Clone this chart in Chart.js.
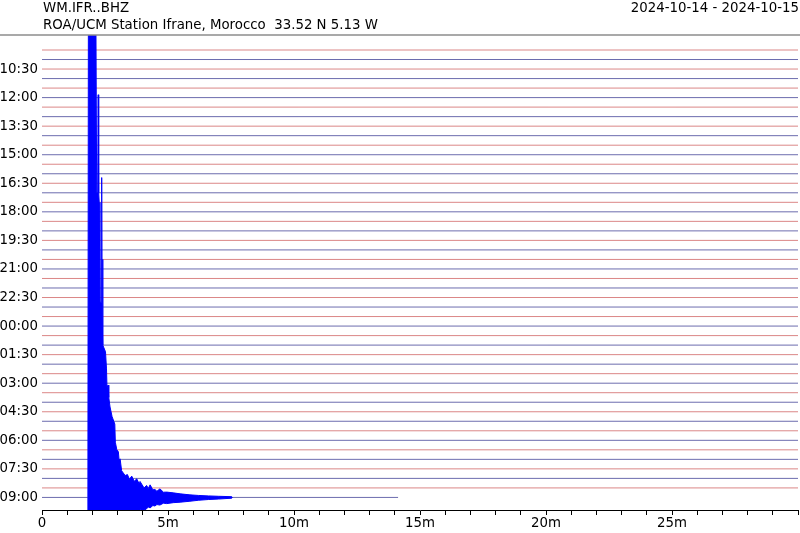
<!DOCTYPE html>
<html>
<head>
<meta charset="utf-8">
<script src="https://cdn.jsdelivr.net/npm/chart.js@4.4.1/dist/chart.umd.min.js"></script>
<style>
  html, body { margin: 0; padding: 0; background: #fff; }
  #wrap { width: 800px; height: 533px; }
</style>
</head>
<body>
<div id="wrap"><canvas id="heli" width="800" height="533"></canvas></div>
<script>
// Helicorder: 48 lines of 30 minutes, 09:30 (2024-10-14) -> 09:00 (2024-10-15)
const traceCount = 48;
const lastTraceEnd = 14.13; // minutes of data on the last line
const yTickLabels = [
  "10:30", "12:00", "13:30", "15:00", "16:30", "18:00", "19:30", "21:00",
  "22:30", "00:00", "01:30", "03:00", "04:30", "06:00", "07:30", "09:00",
];
const xTickLabels = ["0", "5m", "10m", "15m", "20m", "25m"];

// Event on the last line (09:00), amplitude in line spacings (clipped at the frame)
const quakeTime = [
  1.82, 1.84, 2.14, 2.17, 2.21, 2.23, 2.25, 2.27, 2.30, 2.35, 2.369, 2.385, 2.405, 2.42,
  2.52, 2.56, 2.58, 2.62, 2.65, 2.70, 2.78, 2.89, 2.91, 2.97, 3.03, 3.06, 3.10, 3.16,
  3.30, 3.39, 3.47, 3.56, 3.66, 3.76, 3.86, 3.89, 4.05, 4.15, 4.22, 4.29, 4.40, 4.48,
  4.56, 4.68, 4.82, 4.95, 5.21, 5.48, 5.87, 6.20, 6.60, 7.00, 7.53, 7.55,
];
const quakeUp = [
  0, 50, 50, 32, 32, 42.3, 32, 31, 20.5, 20.5, 33.6, 19, 25, 16,
  15.3, 13.5, 11.5, 11.8, 10.5, 9.5, 8.5, 7.7, 5.8, 5.0, 4.8, 3.9, 4.05, 2.8,
  2.3, 2.4, 1.9, 2.24, 1.7, 1.95, 1.4, 1.68, 1.0, 1.26, 0.95, 1.32, 0.8, 0.84,
  0.65, 0.9, 0.55, 0.56, 0.48, 0.38, 0.27, 0.21, 0.16, 0.12, 0.08, 0,
];
const quakeDown = [
  0, 50, 50, 50, 50, 50, 50, 50, 50, 50, 50, 50, 50, 50,
  50, 50, 40, 40, 30, 30, 20, 20, 10, 10, 8, 6, 5, 4,
  3, 2.5, 2.2, 2, 1.8, 1.6, 1.45, 1.3, 1.35, 1.2, 1.0, 1.1, 0.85, 0.9,
  0.75, 0.8, 0.6, 0.65, 0.55, 0.5, 0.4, 0.3, 0.22, 0.17, 0.08, 0,
];

const FONT = "DejaVu Sans";
const FONT_SIZE = 13.33;
const lineColors = ["rgba(200, 70, 70, 0.65)", "rgba(45, 45, 140, 0.7)"];
const quakeLine = traceCount - 1;

Chart.defaults.font.family = FONT;
Chart.defaults.font.size = FONT_SIZE;
Chart.defaults.color = "#000";

const datasets = [];

// upper edge of the event, filled down to the lower edge
datasets.push({
  data: quakeTime.map((t, i) => ({ x: t, y: quakeLine - quakeUp[i] })),
  borderColor: "#0000ff",
  backgroundColor: "#0000ff",
  borderWidth: 1,
  pointRadius: 0,
  fill: "+1",
});
datasets.push({
  data: quakeTime.map((t, i) => ({ x: t, y: quakeLine + quakeDown[i] })),
  borderColor: "#0000ff",
  borderWidth: 1,
  pointRadius: 0,
  fill: false,
});

for (let k = 0; k < traceCount; k++) {
  const end = k === quakeLine ? lastTraceEnd : 30;
  datasets.push({
    data: [{ x: 0, y: k }, { x: end, y: k }],
    borderColor: lineColors[k % 2],
    borderWidth: 1,
    pointRadius: 0,
    fill: false,
  });
}

// header texts + separator line
const headerPlugin = {
  id: "header",
  afterDraw(chart) {
    const ctx = chart.ctx;
    const area = chart.chartArea;
    ctx.save();
    ctx.strokeStyle = "#8c8c8c";
    ctx.lineWidth = 1.5;
    ctx.beginPath();
    ctx.moveTo(0, area.top);
    ctx.lineTo(chart.width, area.top);
    ctx.stroke();
    ctx.fillStyle = "#000";
    ctx.font = FONT_SIZE + "px '" + FONT + "'";
    ctx.textBaseline = "alphabetic";
    ctx.textAlign = "left";
    ctx.fillText("WM.IFR..BHZ", area.left + 1, 12);
    ctx.fillText("ROA/UCM Station Ifrane, Morocco  33.52 N 5.13 W", area.left + 1, 28.5);
    ctx.textAlign = "right";
    ctx.fillText("2024-10-14 - 2024-10-15", chart.width - 1, 12);
    ctx.restore();
  },
};

new Chart(document.getElementById("heli").getContext("2d"), {
  type: "line",
  data: { datasets: datasets },
  options: {
    responsive: false,
    animation: false,
    events: [],
    layout: { padding: { top: 35, right: 2, left: 0, bottom: 0 } },
    plugins: {
      legend: { display: false },
      tooltip: { enabled: false },
      title: { display: false },
    },
    scales: {
      x: {
        type: "linear",
        min: 0,
        max: 30,
        afterFit: (scale) => { scale.height = 23; },
        ticks: {
          stepSize: 1,
          autoSkip: false,
          maxRotation: 0,
          padding: 1,
          callback: (v) => (v % 5 === 0 && v < 30 ? xTickLabels[v / 5] : ""),
        },
        grid: { drawOnChartArea: false, tickLength: 5, tickColor: "#000" },
        border: { display: true, color: "#000", width: 1 },
      },
      y: {
        type: "linear",
        reverse: true,
        min: -1.576,
        max: 48.32,
        afterFit: (scale) => { scale.width = 42; },
        afterBuildTicks: (scale) => {
          scale.ticks = yTickLabels.map((_, i) => ({ value: 2 + 3 * i }));
        },
        ticks: {
          padding: 4,
          callback: (v) => yTickLabels[(v - 2) / 3],
        },
        grid: { display: false, drawTicks: false },
        border: { display: false },
      },
    },
  },
  plugins: [headerPlugin],
});
</script>
</body>
</html>
